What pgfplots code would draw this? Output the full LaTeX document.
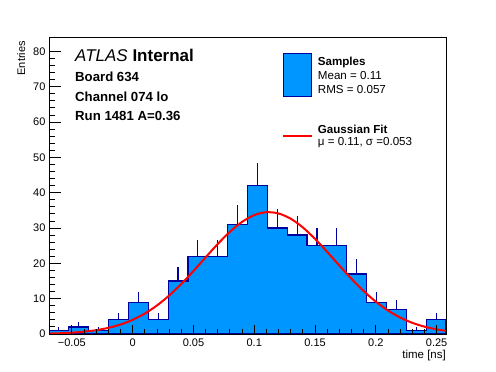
\documentclass[border=0pt]{standalone}
\usepackage{fontspec}
\setmainfont{Liberation Sans}
\usepackage{pgfplots}
\pgfplotsset{compat=1.18}
\definecolor{histfill}{RGB}{0,150,255}
\definecolor{histline}{RGB}{0,0,160}
\definecolor{fitred}{RGB}{255,0,0}
\newcommand{\fs}[1]{\fontsize{#1bp}{#1bp}\selectfont}
\begin{document}
\begin{tikzpicture}
\begin{axis}[
  at={(49bp,38bp)}, anchor=south west,
  scale only axis, width=397bp, height=296.7bp,
  xmin=-0.0688, xmax=0.2577, ymin=0, ymax=84,
  axis on top,
  xtick={-0.05,0,0.05,0.1,0.15,0.2,0.25},
  xticklabels={−0.05,0,0.05,0.1,0.15,0.2,0.25},
  xtick style={draw=none},
  ytick={0,10,20,30,40,50,60,70,80},
  yticklabels={0,10,20,30,40,50,60,70,80},
  minor y tick num=4,
  tick align=inside,
  xtick pos=left, ytick pos=left,
  major tick length=12bp, minor tick length=6bp,
  ytick style={black, line width=0.9bp},
  axis line style={black, line width=1bp},
  ticklabel style={font=\fs{11}},
  xticklabel style={yshift=-1bp},
]
\addplot[const plot, fill=histfill, draw=histline, line width=1.2bp] coordinates {
(-0.0688,1) (-0.052475,2) (-0.03615,1) (-0.019825,4) (-0.0035,9)
(0.012825,4) (0.02915,15) (0.045475,22) (0.0618,22) (0.078125,31)
(0.09445,42) (0.110775,30) (0.1271,28) (0.143425,25) (0.15975,25)
(0.176075,17) (0.1924,9) (0.208725,7) (0.22505,1) (0.241375,4)
(0.2577,4)
} \closedcycle;
\addplot[draw=none, mark=none, forget plot,
  error bars/.cd, y dir=plus, y explicit, error mark=none,
  error bar style={draw=histline, line width=1.1bp}] coordinates {
(-0.060638,1) +- (0,1)
(-0.044313,2) +- (0,1.414)
(-0.027988,1) +- (0,1)
(-0.011663,4) +- (0,2)
(0.004663,9) +- (0,3)
(0.020988,4) +- (0,2)
(0.037313,15) +- (0,3.873)
(0.053638,22) +- (0,4.690)
(0.069963,22) +- (0,4.690)
(0.086288,31) +- (0,5.568)
(0.102613,42) +- (0,6.481)
(0.118938,30) +- (0,5.477)
(0.135263,28) +- (0,5.292)
(0.151588,25) +- (0,5)
(0.167913,25) +- (0,5)
(0.184238,17) +- (0,4.123)
(0.200563,9) +- (0,3)
(0.216888,7) +- (0,2.646)
(0.233213,1) +- (0,1)
(0.249538,4) +- (0,2)
};
\addplot[fitred, line width=2bp, smooth] coordinates {
(-0.0688,0.127) (-0.06,0.216) (-0.05,0.383) (-0.04,0.657) (-0.03,1.087)
(-0.02,1.739) (-0.01,2.687) (0,4.014) (0.01,5.795) (0.02,8.082)
(0.03,10.89) (0.04,14.18) (0.05,17.85) (0.06,21.70) (0.07,25.49)
(0.08,28.94) (0.09,31.75) (0.10,33.66) (0.11,34.48) (0.12,34.12)
(0.13,32.64) (0.14,30.16) (0.15,26.93) (0.16,23.24) (0.17,19.38)
(0.18,15.61) (0.19,12.16) (0.20,9.145) (0.21,6.647) (0.22,4.669)
(0.23,3.169) (0.24,2.078) (0.25,1.317) (0.2577,0.906)
};
\end{axis}
\begin{axis}[
  at={(49bp,38bp)}, anchor=south west,
  scale only axis, width=397bp, height=296.7bp,
  xmin=-0.0688, xmax=0.2577, ymin=0, ymax=84,
  xtick={-0.05,0,0.05,0.1,0.15,0.2,0.25},
  xticklabels={},
  minor x tick num=4,
  ytick=\empty,
  tick align=inside,
  xtick pos=left,
  major tick length=9bp, minor tick length=4.5bp,
  tick style={black, line width=0.9bp},
  axis line style={black, line width=1bp},
]
\end{axis}
% axis titles
\node[anchor=base east, inner sep=0pt, font=\fs{11.5}] at (446bp,13.7bp) {time [ns]};
\node[anchor=base east, rotate=90, inner sep=0pt, font=\fs{11}] at (25bp,331bp) {Entries};
% label block
\node[anchor=base west, inner sep=0pt, font=\fs{17}] at (75bp,310.3bp) {\textit{ATLAS} \textbf{Internal}};
\node[anchor=base west, inner sep=0pt, font=\fs{13.2}\bfseries] at (75bp,290.5bp) {Board 634};
\node[anchor=base west, inner sep=0pt, font=\fs{13.2}\bfseries] at (75bp,270.5bp) {Channel 074 lo};
\node[anchor=base west, inner sep=0pt, font=\fs{13.2}\bfseries] at (75bp,251.5bp) {Run 1481 A=0.36};
% legend
\filldraw[fill=histfill, draw=histline, line width=1bp] (283.3bp,275.3bp) rectangle (311.7bp,318.7bp);
\node[anchor=base west, inner sep=0pt, font=\fs{11.6}\bfseries] at (317.7bp,306bp) {Samples};
\node[anchor=base west, inner sep=0pt, font=\fs{11.6}] at (317.7bp,292bp) {Mean = 0.11};
\node[anchor=base west, inner sep=0pt, font=\fs{11.6}] at (317.7bp,278bp) {RMS = 0.057};
\draw[fitred, line width=2bp] (283.3bp,236bp) -- (311.7bp,236bp);
\node[anchor=base west, inner sep=0pt, font=\fs{11.6}\bfseries] at (317.7bp,238.7bp) {Gaussian Fit};
\node[anchor=base west, inner sep=0pt, font=\fs{11.6}] at (317.7bp,226.7bp) {μ = 0.11, σ =0.053};
\pgfresetboundingbox
\path (0bp,0bp) rectangle (496bp,372bp);
\end{tikzpicture}
\end{document}
